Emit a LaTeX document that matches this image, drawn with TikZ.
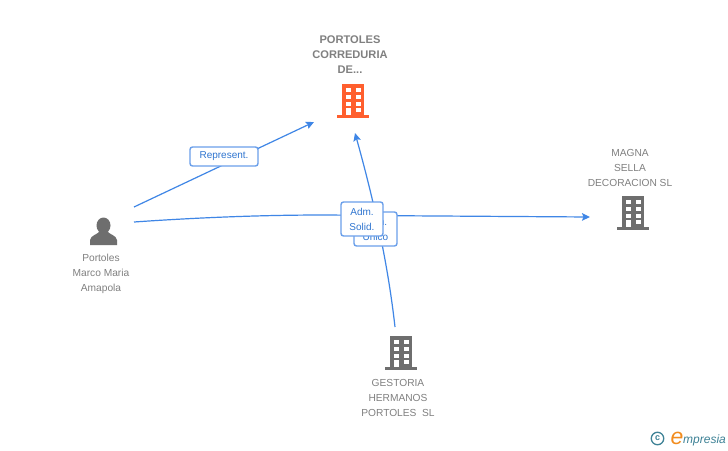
\documentclass[tikz,border=0pt]{standalone}
\usepackage{fontspec}
\setmainfont{Liberation Sans}
\usepackage{tikz}
\usetikzlibrary{arrows.meta}
\definecolor{linkblue}{HTML}{3F86E6}
\definecolor{edgeblue}{HTML}{6A9FEA}
\definecolor{textblue}{HTML}{2F75D0}
\definecolor{iconorange}{HTML}{FF5F2E}
\definecolor{icongray}{HTML}{6E6E6E}
\definecolor{namegray}{HTML}{808080}
\definecolor{logoteal}{HTML}{3E8296}
\definecolor{logoorange}{HTML}{F28C1E}
\tikzset{
  link/.style={linkblue, line width=1.2pt, -{Stealth[length=8pt, width=7.5pt, inset=1.5pt]}},
  rolebox/.style={draw=edgeblue, line width=1.4pt, fill=white, rounded corners=2.5pt, text=textblue,
    font=\fontsize{10}{15}\selectfont, align=center, inner sep=0pt},
  company/.style={text=namegray, font=\fontsize{10.2}{15}\selectfont, align=center, inner sep=0pt},
  target/.style={text=namegray, font=\fontsize{11.1}{15}\selectfont\bfseries, align=center, inner sep=0pt}
}
\begin{document}
\begin{tikzpicture}[x=1pt, y=-1pt]
\newcommand{\building}[3]{%
  \begin{scope}[shift={(#1,#2)}]
    \fill[#3] (-11, -34) rectangle (11, -2);
    \fill[#3] (-16, -3) rectangle (16, 0);
    \foreach \row in {-30,-23,-16} {
      \fill[white] (-7, \row) rectangle (-2.5, \row+4);
      \fill[white] (3, \row) rectangle (7.5, \row+4);
    }
    \fill[white] (-7, -10) rectangle (-2.5, -3);
    \fill[white] (3, -10) rectangle (7.5, -6);
  \end{scope}}
\useasboundingbox (0, 0) rectangle (728, 450);
\fill[white] (0, 0) rectangle (728, 450);
\coordinate (repStart) at (134, 207);
\coordinate (repEnd) at (314, 122);
\coordinate (admStart) at (134, 222);
\coordinate (admEnd) at (590, 217);
\coordinate (solStart) at (395, 327);
\coordinate (solEnd) at (355, 133);
\draw[link] (repStart) -- (repEnd);
\draw[link] (admStart) .. controls (220, 216) and (300, 214) .. (362, 215.5) -- (admEnd);
\draw[link] (solStart) .. controls (388, 265) and (375, 205) .. (solEnd);
\node[rolebox, minimum width=68pt, minimum height=19pt] (represent) at (224, 156.5) {\raisebox{-1.5pt}{Represent.}};
\node[rolebox, minimum width=43pt, minimum height=34pt] (unico) at (375.5, 229) {Adm.\\Unico};
\node[rolebox, minimum width=42pt, minimum height=34pt] (solid) at (362, 219) {Adm.\\Solid.};
\building{353}{118}{iconorange}
\building{633}{230}{icongray}
\building{401}{370}{icongray}
% person
\fill[icongray] (103.5, 225.5) ellipse (7 and 8);
\fill[icongray] (90, 245) -- (90, 240) .. controls (91, 235) and (97, 235) .. (100, 231) -- (107, 231)
  .. controls (110, 235) and (116, 235) .. (117, 240) -- (117, 245) -- cycle;
\node[target] (portoles) at (350, 55) {PORTOLES\\CORREDURIA\\DE...};
\node[company] (magna) at (630, 167.5) {MAGNA\\SELLA\\DECORACION SL};
\node[company] (gestoria) at (398, 397.5) {GESTORIA\\HERMANOS\\PORTOLES\ \ SL};
\node[company] (marco) at (101, 274) {Portoles\\Marco Maria\\Amapola};
% logo
\node[draw=logoteal, circle, line width=1.3pt, minimum size=12.5pt, inner sep=0pt, text=logoteal,
  font=\fontsize{9}{9}\selectfont\bfseries] (copyr) at (657.5, 438.5) {c};
\node[anchor=base west, inner sep=0pt, text=logoorange, font=\fontsize{23}{23}\selectfont\itshape] (logoe) at (670.5, 444) {e};
\node[anchor=base west, inner sep=0pt, text=logoteal, font=\fontsize{12}{12}\selectfont\itshape] (logotext) at (683, 443) {mpresia};
\end{tikzpicture}
\end{document}
